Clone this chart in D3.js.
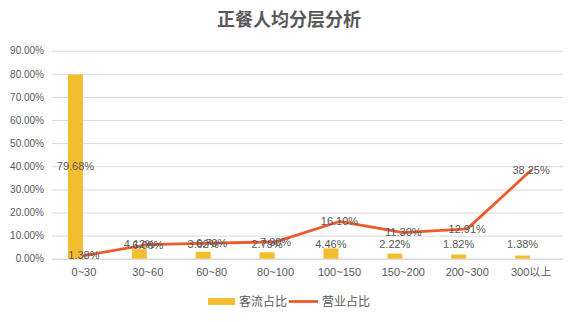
<!DOCTYPE html>
<html>
<head>
<meta charset="utf-8">
<script src="https://cdn.jsdelivr.net/npm/d3@7"></script>
<style>
  html, body { margin: 0; padding: 0; background: #fff; }
  svg { display: block; }
</style>
</head>
<body>
<svg id="chart" width="578" height="322"></svg>
<script>
// 正餐人均分层：各价格带的客流占比与营业占比
const categories = ["0~30", "30~60", "60~80", "80~100", "100~150", "150~200", "200~300", "300以上"];
const guestShare = [79.68, 4.12, 3.02, 2.79, 4.46, 2.22, 1.82, 1.38];   // 客流占比 (%)
const revenueShare = [1.38, 6.06, 6.70, 7.30, 16.10, 11.30, 12.91, 38.25]; // 营业占比 (%)
const yTicks = [0, 10, 20, 30, 40, 50, 60, 70, 80, 90];
const seriesNames = ["客流占比", "营业占比"];

const W = 578, H = 322;
const margin = { left: 52, right: 15, top: 50.7, bottom: 63 };
const barColor = "#F2BE30";
const lineColor = "#EE5A2A";
const textColor = "#595959";
const gridColor = "#D9D9D9";
const latin = "'Liberation Sans', Arial, 'Noto Sans CJK SC', sans-serif";
const cjk = "'Noto Sans CJK SC', 'Liberation Sans', sans-serif";

const svg = d3.select("#chart");

const x = d3.scaleBand()
  .domain(categories)
  .range([margin.left, W - margin.right]);

const y = d3.scaleLinear()
  .domain([0, 90])
  .range([H - margin.bottom - 0.3, margin.top]);

const fmt = v => v.toFixed(2) + "%";

// Title
svg.append("text")
  .attr("x", 289)
  .attr("y", 26)
  .attr("text-anchor", "middle")
  .attr("font-family", cjk)
  .attr("font-size", 18)
  .attr("font-weight", "bold")
  .attr("fill", textColor)
  .text("正餐人均分层分析");

// Gridlines and y-axis labels
const yAxis = d3.axisLeft(y)
  .tickValues(yTicks)
  .tickSize(-(W - margin.left - margin.right))
  .tickPadding(8)
  .tickFormat(d => d.toFixed(2) + "%");

const gy = svg.append("g")
  .attr("transform", `translate(${margin.left},0)`)
  .call(yAxis);
gy.select(".domain").remove();
gy.selectAll(".tick line").attr("stroke", gridColor).attr("stroke-width", 1);
gy.selectAll(".tick text")
  .attr("fill", textColor)
  .attr("font-family", latin)
  .attr("font-size", 10);

// x-axis labels
const xAxis = d3.axisBottom(x).tickSize(0).tickPadding(10);
const gx = svg.append("g")
  .attr("transform", `translate(0,${y(0)})`)
  .call(xAxis);
gx.select(".domain").attr("stroke", gridColor);
gx.selectAll(".tick text")
  .attr("fill", textColor)
  .attr("font-family", latin)
  .attr("font-size", 11);

const barW = 15;
const center = c => x(c) + x.bandwidth() / 2;
const barX = c => center(c) - 1 - barW;

// Bars: 客流占比
svg.append("g")
  .selectAll("rect")
  .data(categories)
  .join("rect")
  .attr("x", c => barX(c))
  .attr("y", (c, i) => y(guestShare[i]))
  .attr("width", barW)
  .attr("height", (c, i) => y(0) - y(guestShare[i]))
  .attr("fill", barColor);

// Line: 营业占比
const line = d3.line()
  .x((d, i) => center(categories[i]))
  .y(d => y(d));

svg.append("path")
  .datum(revenueShare)
  .attr("d", line)
  .attr("fill", "none")
  .attr("stroke", lineColor)
  .attr("stroke-width", 2.8)
  .attr("stroke-linejoin", "round")
  .attr("stroke-linecap", "round");

// Bar value labels (centred on the bar, lifted when the bar is short)
svg.append("g")
  .selectAll("text")
  .data(categories)
  .join("text")
  .attr("x", c => barX(c) + barW / 2)
  .attr("y", (c, i) => Math.min((y(guestShare[i]) + y(0)) / 2, y(0) - 14.5))
  .attr("dy", "0.35em")
  .attr("text-anchor", "middle")
  .attr("font-family", latin)
  .attr("font-size", 11)
  .attr("fill", textColor)
  .text((c, i) => fmt(guestShare[i]));

// Line value labels (centred on the point)
svg.append("g")
  .selectAll("text")
  .data(categories)
  .join("text")
  .attr("x", c => center(c))
  .attr("y", (c, i) => y(revenueShare[i]))
  .attr("dy", "0.35em")
  .attr("text-anchor", "middle")
  .attr("font-family", latin)
  .attr("font-size", 11)
  .attr("fill", textColor)
  .text((c, i) => fmt(revenueShare[i]));

// Legend
const legend = svg.append("g");
legend.append("rect")
  .attr("x", 208).attr("y", 298)
  .attr("width", 27).attr("height", 7)
  .attr("fill", barColor);
legend.append("text")
  .attr("x", 239).attr("y", 306)
  .attr("font-family", cjk).attr("font-size", 12)
  .attr("fill", textColor)
  .text(seriesNames[0]);
legend.append("line")
  .attr("x1", 289).attr("x2", 318)
  .attr("y1", 301.5).attr("y2", 301.5)
  .attr("stroke", lineColor).attr("stroke-width", 2.8);
legend.append("text")
  .attr("x", 322).attr("y", 306)
  .attr("font-family", cjk).attr("font-size", 12)
  .attr("fill", textColor)
  .text(seriesNames[1]);
</script>
</body>
</html>
